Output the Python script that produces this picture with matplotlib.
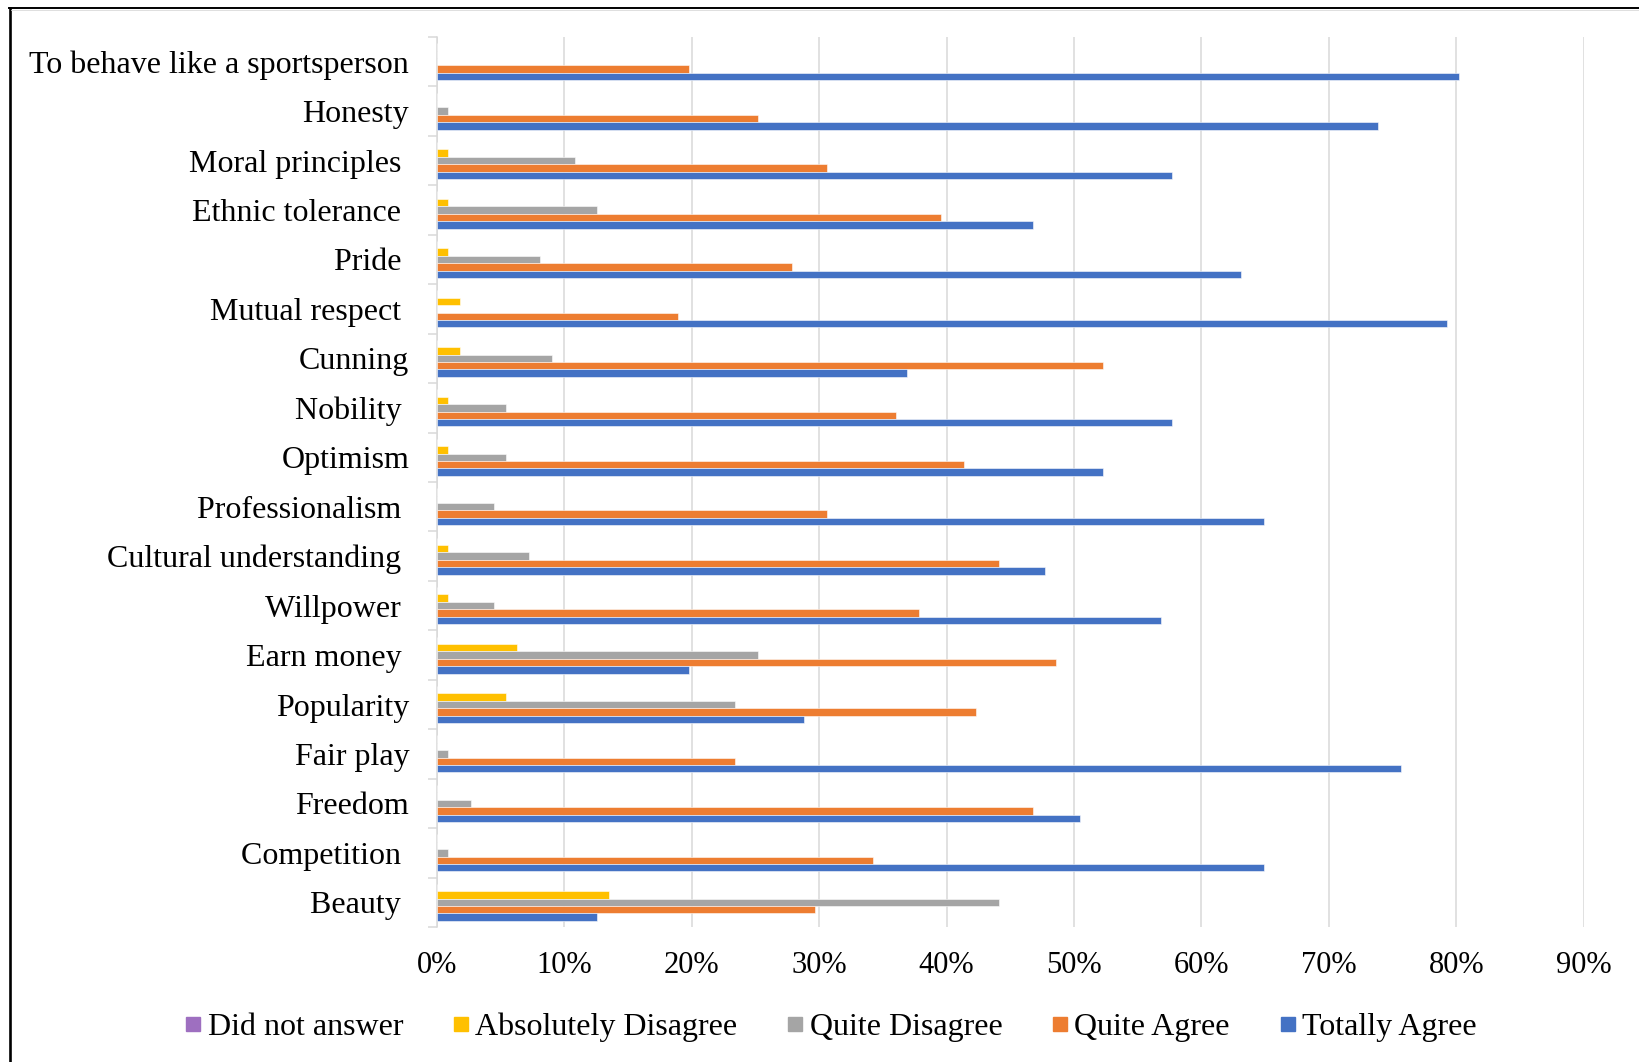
import matplotlib
matplotlib.use("Agg")
import matplotlib.pyplot as plt
from matplotlib.lines import Line2D
import numpy as np

plt.rcParams['font.family'] = ['Liberation Serif', 'DejaVu Serif']

# Values attributed to sport, share of respondents (%)
categories = [
    "To behave like a sportsperson", "Honesty", "Moral principles ",
    "Ethnic tolerance ", "Pride ", "Mutual respect ", "Cunning",
    "Nobility ", "Optimism", "Professionalism ", "Cultural understanding ",
    "Willpower ", "Earn money ", "Popularity", "Fair play", "Freedom",
    "Competition ", "Beauty ",
]
did_not_answer = [0.0] * 18
absolutely_disagree = [0.0, 0.0, 0.9, 0.9, 0.9, 1.8, 1.8, 0.9, 0.9, 0.0,
                       0.9, 0.9, 6.3, 5.4, 0.0, 0.0, 0.0, 13.5]
quite_disagree = [0.0, 0.9, 10.8, 12.6, 8.1, 0.0, 9.0, 5.4, 5.4, 4.5,
                  7.2, 4.5, 25.2, 23.4, 0.9, 2.7, 0.9, 44.1]
quite_agree = [19.8, 25.2, 30.6, 39.6, 27.9, 18.9, 52.3, 36.0, 41.4, 30.6,
               44.1, 37.8, 48.6, 42.3, 23.4, 46.8, 34.2, 29.7]
totally_agree = [80.2, 73.9, 57.7, 46.8, 63.1, 79.3, 36.9, 57.7, 52.3, 64.9,
                 47.7, 56.8, 19.8, 28.8, 75.7, 50.5, 64.9, 12.6]

series_names = ["Did not answer", "Absolutely Disagree", "Quite Disagree",
                "Quite Agree", "Totally Agree"]
series_values = [did_not_answer, absolutely_disagree, quite_disagree,
                 quite_agree, totally_agree]
series_colors = ["#9E6FC0", "#FFC000", "#A5A5A5", "#ED7D31", "#4472C4"]
x_ticks = np.arange(0, 100, 10)

fig = plt.figure(figsize=(16.39, 10.62), dpi=100)
ax = fig.add_axes([0.2666, 0.1271, 0.6996, 0.8381])

n = len(categories)
y = np.arange(n)
h = 0.15
for j, (name, vals, col) in enumerate(zip(series_names, series_values, series_colors)):
    ax.barh(y + (j - 2) * h, vals, height=h, color=col, label=name,
            edgecolor=(1, 1, 1, 0.55), linewidth=0.7, zorder=3)

ax.set_xlim(0, 90)
ax.set_ylim(n - 0.5, -0.5)

ax.set_xticks(x_ticks)
ax.set_xticklabels([f"{v}%" for v in x_ticks], fontsize=22)
ax.tick_params(axis='x', length=0, pad=17)
ax.grid(axis='x', color='#D9D9D9', linewidth=1.1, zorder=0)

ax.set_yticks(y)
ax.set_yticklabels(categories, fontsize=23)
ax.tick_params(axis='y', which='major', length=0, pad=20)
ax.set_yticks(np.arange(n + 1) - 0.5, minor=True)
ax.tick_params(axis='y', which='minor', length=6.5, width=1.1, color='#D9D9D9')

for side in ['top', 'right', 'bottom']:
    ax.spines[side].set_visible(False)
ax.spines['left'].set_color('#D9D9D9')
ax.spines['left'].set_linewidth(1.1)

# Legend with square markers
handles = [Line2D([0], [0], marker='s', linestyle='none', markersize=10.5,
                  markerfacecolor=c, markeredgecolor=c) for c in series_colors]
fig.legend(handles, series_names, loc='center', bbox_to_anchor=(0.507, 0.033),
           ncol=5, frameon=False, fontsize=23, handlelength=0.5,
           handletextpad=0.2, columnspacing=1.56, borderpad=0)

# Outer frame (left and top edges)
fig.add_artist(Line2D([10 / 1639, 10 / 1639], [0, 1 - 8 / 1062],
                      transform=fig.transFigure, color='black', linewidth=1.9))
fig.add_artist(Line2D([9 / 1639, 1], [1 - 8 / 1062, 1 - 8 / 1062],
                      transform=fig.transFigure, color='black', linewidth=1.4))
fig.add_artist(Line2D([11 / 1639, 1], [1 - 10 / 1062, 1 - 10 / 1062],
                      transform=fig.transFigure, color='#D9D9D9', linewidth=0.6))

fig.savefig("out.png", dpi=100)
